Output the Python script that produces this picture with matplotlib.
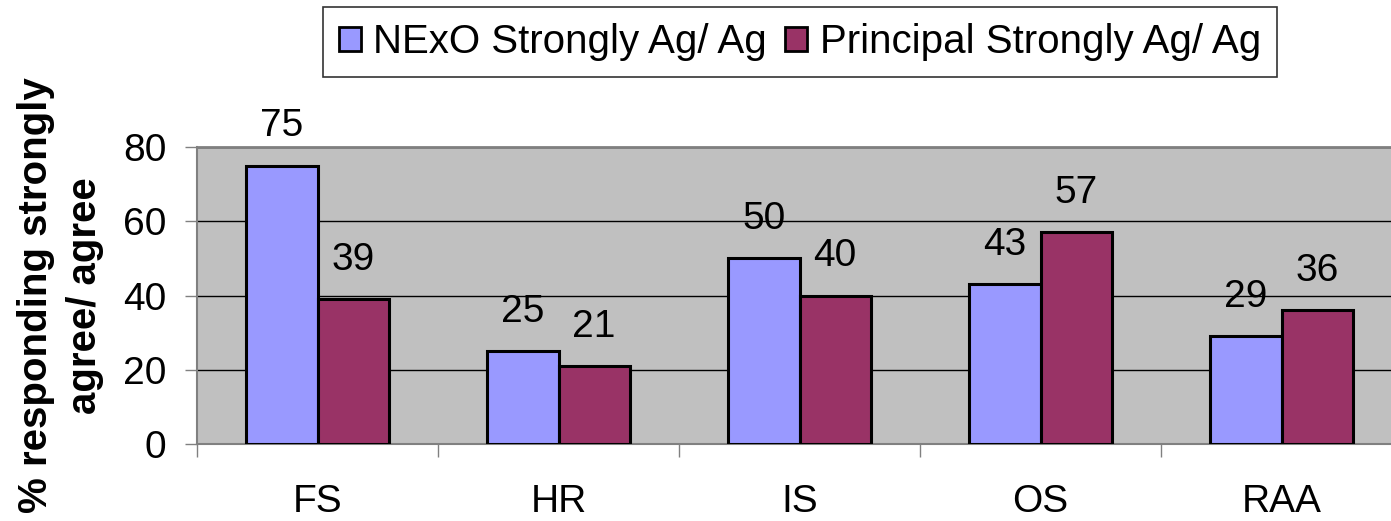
import matplotlib
matplotlib.use("Agg")
import matplotlib.pyplot as plt
import numpy as np

categories = ["FS", "HR", "IS", "OS", "RAA"]
nexo_values = [75, 25, 50, 43, 29]
principal_values = [39, 21, 40, 57, 36]
series_names = ["NExO Strongly Ag/ Ag", "Principal Strongly Ag/ Ag"]
y_ticks = [0, 20, 40, 60, 80]

plt.rcParams["font.family"] = ["Liberation Sans", "DejaVu Sans"]

fig = plt.figure(figsize=(13.91, 5.21), dpi=100)
ax = fig.add_axes([197 / 1391, 77 / 521, 1205 / 1391, 297 / 521])
ax.set_facecolor("#C0C0C0")

x = np.arange(len(categories))
w = 0.295
b1 = ax.bar(x - w / 2, nexo_values, w, color="#9999FF", edgecolor="black",
            linewidth=2.2, zorder=3, label=series_names[0])
b2 = ax.bar(x + w / 2, principal_values, w, color="#993366", edgecolor="black",
            linewidth=2.2, zorder=3, label=series_names[1])

for bars, vals in ((b1, nexo_values), (b2, principal_values)):
    for rect, v in zip(bars, vals):
        ax.annotate(f"{v}", (rect.get_x() + rect.get_width() / 2, v),
                    xytext=(0, 21), textcoords="offset points",
                    ha="center", va="baseline", fontsize=28)

ax.set_xlim(-0.5, len(categories) - 0.5)
ax.set_ylim(0, 80)
ax.set_yticks(y_ticks)
ax.yaxis.grid(True, color="black", linewidth=1.0, zorder=1)
ax.set_axisbelow(True)

ax.set_xticks(x)
ax.set_xticklabels(categories, fontsize=28)
ax.tick_params(axis="x", which="major", length=0, pad=29)
ax.set_xticks(np.arange(len(categories) + 1) - 0.5, minor=True)
ax.tick_params(axis="x", which="minor", length=9, width=1.0, color="#808080",
               direction="out")
ax.tick_params(axis="y", length=9, width=1.0, color="#808080", pad=13,
               labelsize=28)

for side in ("top", "left", "bottom"):
    ax.spines[side].set_color("#808080")
ax.spines["top"].set_linewidth(2.0)
ax.spines["left"].set_linewidth(1.5)
ax.spines["bottom"].set_linewidth(1.5)
ax.spines["right"].set_visible(False)

ax.set_ylabel("% responding strongly\nagree/ agree", fontsize=29,
              fontweight="bold", labelpad=14, linespacing=1.35)

leg = fig.legend(handles=[b1, b2], loc="center", ncol=2,
                 bbox_to_anchor=(800 / 1391, 1 - 42 / 521),
                 fontsize=29, frameon=True, fancybox=False, shadow=False,
                 handlelength=0.55, handleheight=0.55, handletextpad=0.3,
                 columnspacing=0.45, borderpad=0.4, borderaxespad=0)
leg.get_frame().set_edgecolor("black")
leg.get_frame().set_linewidth(1.2)
for patch in leg.get_patches():
    patch.set_linewidth(2.0)

fig.savefig("out.png", dpi=100)
